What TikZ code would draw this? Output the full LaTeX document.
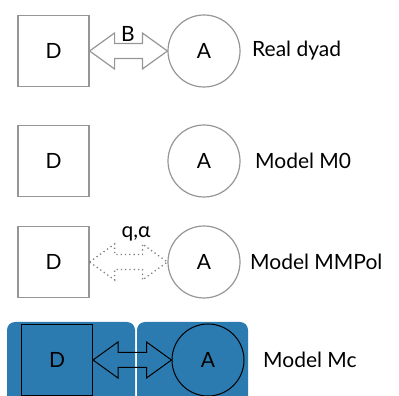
\documentclass[tikz,border=0pt]{standalone}
\usepackage{fontspec}
\setmainfont{Lato}
\usetikzlibrary{calc}

\definecolor{dyadblue}{RGB}{44,123,176}
\definecolor{linegray}{RGB}{150,150,150}

\newcommand\dyadarrow[3]{%
  \draw[#1] (#2.east) -- ++(25,18) -- ++(0,-10.5)
    -- ($(#3.west)+(-25,7.5)$) -- ++(0,10.5) -- (#3.west)
    -- ++(-25,-18) -- ++(0,10.5)
    -- ($(#2.east)+(25,-7.5)$) -- ++(0,-10.5) -- cycle;}

\tikzset{
  donor/.style={draw=linegray, line width=1.2pt, minimum size=71pt, inner sep=0pt},
  acceptor/.style={circle, draw=linegray, line width=1.2pt, minimum size=72pt, inner sep=0pt},
  modellabel/.style={anchor=west, inner sep=0pt},
  blackline/.style={draw=black, line width=1pt},
}

\begin{document}
\begin{tikzpicture}[x=1pt, y=1pt, font=\fontsize{21}{25}\selectfont]
\useasboundingbox (0,0) rectangle (399,396);
\node[donor] (d1) at (53.5,345) {D};
\node[acceptor] (a1) at (204,345) {A};
\dyadarrow{draw=linegray, line width=1.2pt}{d1}{a1}
\node (b) at (128,362) {B};
\node[modellabel] (l1) at (252,345) {Real dyad};

\node[donor] (d2) at (53.5,235) {D};
\node[acceptor] (a2) at (204,235) {A};
\node[modellabel] (l2) at (255,235) {Model M0};

\node[donor] (d3) at (53.5,134) {D};
\node[acceptor] (a3) at (204,134) {A};
\dyadarrow{draw=gray, line width=1.3pt, dash pattern=on 1.3pt off 3pt}{d3}{a3}
\node (q) at (136,162) {q,α};
\node[modellabel] (l3) at (250,134) {Model MMPol};

\fill[dyadblue, rounded corners=8] (7,-10) rectangle (135,74);
\fill[dyadblue, rounded corners=8] (137,-10) rectangle (248,74);
\node[donor, blackline] (d4) at (57,36) {D};
\node[acceptor, blackline] (a4) at (208,36) {A};
\dyadarrow{blackline}{d4}{a4}
\node[modellabel] (l4) at (263,36) {Model Mc};
\end{tikzpicture}
\end{document}
